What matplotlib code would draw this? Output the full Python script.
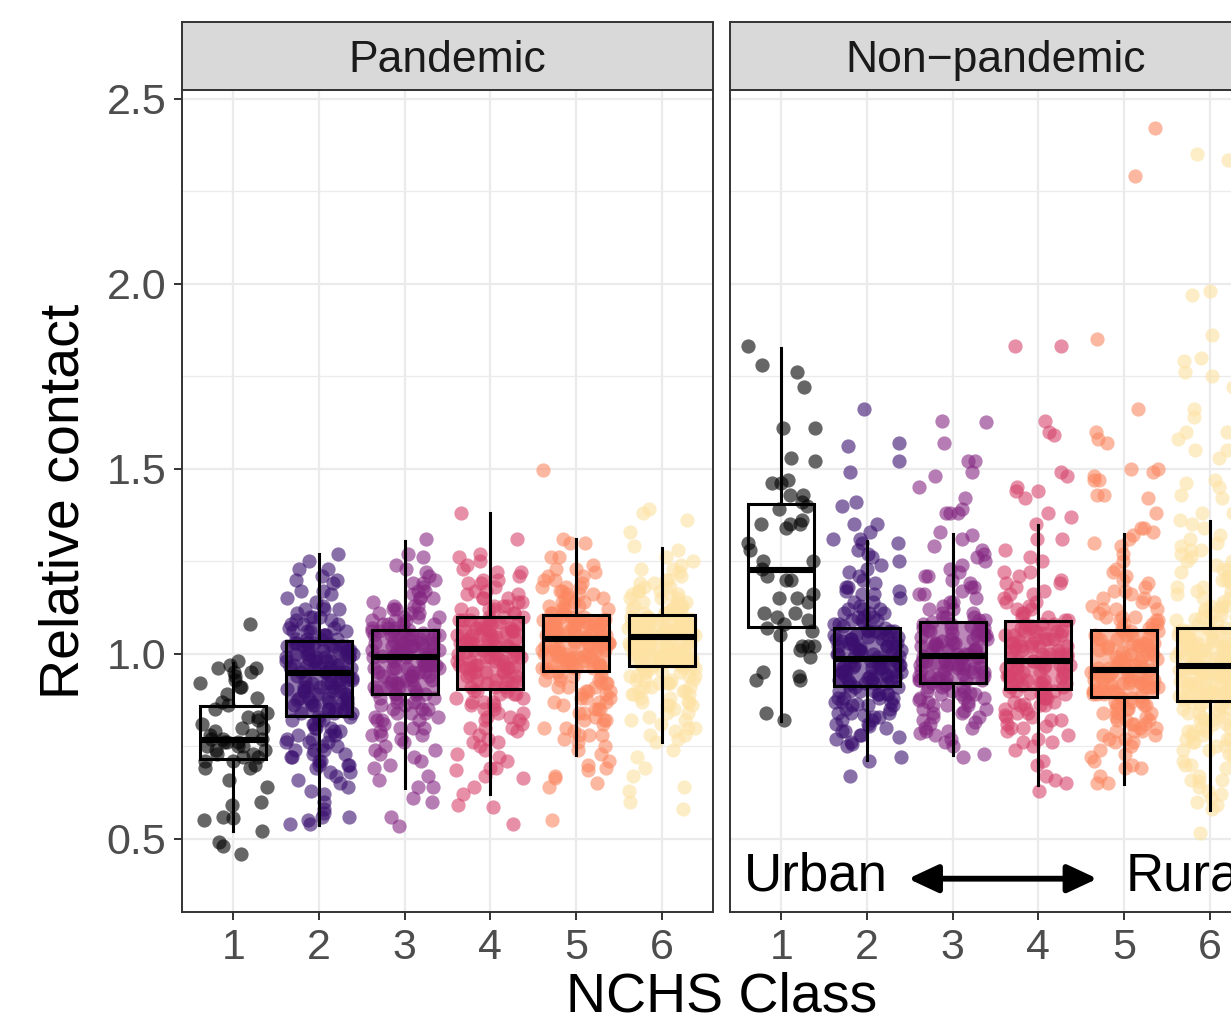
import matplotlib
matplotlib.use("Agg")
import matplotlib.pyplot as plt
import numpy as np

plt.rcParams['font.family'] = ['Liberation Sans', 'DejaVu Sans']

# ---------------- data ----------------
classes = [1, 2, 3, 4, 5, 6]
class_labels = ["1", "2", "3", "4", "5", "6"]
facets = ["Pandemic", "Non\u2212pandemic"]
y_ticks = [0.5, 1.0, 1.5, 2.0, 2.5]
y_tick_labels = ["0.5", "1.0", "1.5", "2.0", "2.5"]

# box statistics: whisker low, Q1, median, Q3, whisker high
pand_lo = [0.520, 0.538, 0.637, 0.621, 0.727, 0.761]
pand_q1 = [0.716, 0.831, 0.891, 0.905, 0.952, 0.966]
pand_med = [0.766, 0.948, 0.990, 1.013, 1.040, 1.044]
pand_q3 = [0.858, 1.033, 1.065, 1.098, 1.104, 1.105]
pand_hi = [0.975, 1.268, 1.304, 1.380, 1.310, 1.286]

npand_lo = [0.817, 0.714, 0.725, 0.646, 0.649, 0.578]
npand_q1 = [1.071, 0.912, 0.921, 0.905, 0.884, 0.873]
npand_med = [1.227, 0.986, 0.993, 0.979, 0.955, 0.968]
npand_q3 = [1.405, 1.069, 1.086, 1.087, 1.063, 1.070]
npand_hi = [1.826, 1.304, 1.324, 1.347, 1.322, 1.358]

# county-level points
pand_1 = [1.08, 0.98, 0.97, 0.96, 0.96, 0.95, 0.95, 0.94, 0.93, 0.92, 0.91, 0.91, 0.89, 0.88,
          0.87, 0.86, 0.85, 0.84, 0.83, 0.83, 0.82, 0.81, 0.80, 0.80, 0.79, 0.78, 0.78, 0.77,
          0.77, 0.77, 0.76, 0.76, 0.76, 0.75, 0.75, 0.75, 0.74, 0.74, 0.73, 0.73, 0.72, 0.72,
          0.71, 0.71, 0.70, 0.69, 0.69, 0.66, 0.64, 0.60, 0.59, 0.56, 0.555, 0.55, 0.52, 0.49,
          0.48, 0.46]
pand_2 = [0.54, 0.54, 0.55, 0.56, 0.56, 0.57, 0.58, 0.60, 0.62, 0.63, 0.64, 0.65, 0.66, 0.67,
          0.68, 0.68, 0.69, 0.70, 0.70, 0.71, 0.71, 0.72, 0.72, 0.73, 0.73, 0.74, 0.74, 0.75,
          0.75, 0.76, 0.76, 0.77, 0.77, 0.78, 0.78, 0.79, 0.79, 0.80, 0.80, 0.81, 0.81, 0.82,
          0.82, 0.83,
          0.83, 0.84, 0.84, 0.85, 0.85, 0.85, 0.86, 0.86, 0.86, 0.87, 0.87, 0.87, 0.88, 0.88,
          0.88, 0.89, 0.89, 0.89, 0.90, 0.90, 0.90, 0.91, 0.91, 0.91, 0.92, 0.92, 0.92, 0.93,
          0.93, 0.93, 0.94, 0.94, 0.94, 0.95, 0.95, 0.95, 0.845, 0.875, 0.905, 0.935,
          0.95, 0.96, 0.96, 0.96, 0.97, 0.97, 0.97, 0.97, 0.98, 0.98, 0.98, 0.98, 0.99, 0.99,
          0.99, 0.99, 1.00, 1.00, 1.00, 1.00, 1.01, 1.01, 1.01, 1.01, 1.02, 1.02, 1.02, 1.02,
          1.03, 1.03, 1.03, 1.03, 0.965, 0.985, 1.005, 1.025,
          1.04, 1.04, 1.04, 1.05, 1.05, 1.05, 1.06, 1.06, 1.06, 1.07, 1.07, 1.08, 1.08, 1.09,
          1.09, 1.10, 1.10, 1.11, 1.12, 1.12, 1.13, 1.14, 1.15, 1.16, 1.17, 1.17, 1.19, 1.20,
          1.20, 1.21, 1.23, 1.23, 1.25, 1.27,
          0.70, 0.74, 0.78, 0.80, 0.82, 0.84, 0.86, 0.88, 0.90, 0.92, 0.94, 0.96, 0.98, 1.00,
          1.02, 1.04, 1.06, 1.08, 1.10, 1.12, 0.87, 0.91, 0.95, 0.99, 1.03, 0.76, 0.85, 0.93,
          1.01, 1.07]
pand_3 = [0.535, 0.56, 0.60, 0.61, 0.64, 0.64, 0.66, 0.67, 0.69, 0.70, 0.71, 0.72, 0.73, 0.74,
          0.75, 0.76, 0.77, 0.78, 0.78, 0.79, 0.80, 0.80, 0.81, 0.82, 0.82, 0.83, 0.83, 0.84,
          0.84, 0.85, 0.85, 0.86, 0.86, 0.87, 0.87, 0.88, 0.88, 0.89, 0.89,
          0.89, 0.90, 0.90, 0.91, 0.91, 0.91, 0.92, 0.92, 0.92, 0.93, 0.93, 0.93, 0.94, 0.94,
          0.94, 0.95, 0.95, 0.95, 0.96, 0.96, 0.96, 0.96, 0.97, 0.97, 0.97, 0.97, 0.98, 0.98,
          0.98, 0.98, 0.99, 0.99, 0.99, 0.99,
          1.00, 1.00, 1.00, 1.00, 1.01, 1.01, 1.01, 1.01, 1.02, 1.02, 1.02, 1.02, 1.03, 1.03,
          1.03, 1.03, 1.04, 1.04, 1.04, 1.04, 1.05, 1.05, 1.05, 1.05, 1.06, 1.06, 1.06, 1.06,
          0.995, 1.015, 1.035, 1.055, 1.065, 1.065,
          1.07, 1.07, 1.08, 1.08, 1.08, 1.09, 1.09, 1.10, 1.10, 1.11, 1.11, 1.12, 1.12, 1.13,
          1.13, 1.14, 1.15, 1.15, 1.16, 1.17, 1.18, 1.19, 1.19, 1.20, 1.21, 1.22, 1.23, 1.24,
          1.26, 1.27, 1.31,
          0.74, 0.78, 0.82, 0.85, 0.87, 0.89, 0.91, 0.93, 0.95, 0.97, 0.99, 1.01, 1.03, 1.05,
          1.07, 1.09, 1.11, 1.13, 1.15, 1.17, 0.80, 0.88, 0.94, 1.00, 1.04, 1.10, 0.84, 0.96,
          1.02, 1.08]
pand_4 = [0.54, 0.585, 0.59, 0.62, 0.64, 0.665, 0.67, 0.685, 0.69, 0.69, 0.71, 0.72, 0.73, 0.74,
          0.75, 0.76, 0.77, 0.78, 0.79, 0.80, 0.80, 0.81, 0.82, 0.83, 0.83, 0.84, 0.85, 0.85,
          0.86, 0.87, 0.87, 0.88, 0.88, 0.89, 0.89, 0.90, 0.90,
          0.91, 0.91, 0.92, 0.92, 0.93, 0.93, 0.94, 0.94, 0.95, 0.95, 0.95, 0.96, 0.96, 0.96,
          0.97, 0.97, 0.97, 0.98, 0.98, 0.98, 0.99, 0.99, 0.99, 1.00, 1.00, 1.00, 1.01, 1.01,
          1.01, 0.925, 0.945, 0.965, 0.985, 1.005,
          1.02, 1.02, 1.02, 1.03, 1.03, 1.03, 1.04, 1.04, 1.04, 1.05, 1.05, 1.05, 1.06, 1.06,
          1.06, 1.07, 1.07, 1.07, 1.08, 1.08, 1.08, 1.09, 1.09, 1.09, 1.10, 1.10, 1.025, 1.045,
          1.065, 1.085, 1.035, 1.055,
          1.11, 1.11, 1.12, 1.12, 1.13, 1.13, 1.14, 1.14, 1.15, 1.15, 1.16, 1.16, 1.17, 1.18,
          1.19, 1.19, 1.20, 1.21, 1.22, 1.22, 1.23, 1.24, 1.25, 1.26, 1.27, 1.31, 1.38,
          0.76, 0.80, 0.84, 0.87, 0.89, 0.91, 0.93, 0.95, 0.97, 0.99, 1.01, 1.03, 1.05, 1.07,
          1.09, 1.11, 1.13, 1.15, 1.17, 1.20, 0.82, 0.90, 0.96, 1.02, 1.06, 1.12, 0.86, 0.98,
          1.04, 1.10]
pand_5 = [0.55, 0.64, 0.65, 0.665, 0.67, 0.685, 0.69, 0.70, 0.71, 0.73, 0.74, 0.75, 0.76, 0.77,
          0.78, 0.78, 0.79, 0.80, 0.81, 0.82, 0.82, 0.83, 0.84, 0.85, 0.85, 0.86, 0.87, 0.87,
          0.88, 0.88, 0.89, 0.89, 0.90, 0.90, 0.91, 0.91, 0.92, 0.92, 0.93, 0.93, 0.94, 0.94,
          0.95, 0.95,
          0.955, 0.96, 0.96, 0.965, 0.97, 0.97, 0.975, 0.98, 0.98, 0.985, 0.99, 0.99, 0.995,
          1.00, 1.00, 1.005, 1.01, 1.01, 1.015, 1.02, 1.02, 1.025, 1.03, 1.03, 1.035, 1.04,
          1.04, 0.96, 0.97, 0.98, 0.99, 1.00, 1.01, 1.02, 1.03, 0.975, 0.995, 1.015,
          1.045, 1.045, 1.05, 1.05, 1.055, 1.055, 1.06, 1.06, 1.065, 1.065, 1.07, 1.07, 1.075,
          1.075, 1.08, 1.08, 1.085, 1.085, 1.09, 1.09, 1.095, 1.095, 1.10, 1.10, 1.05, 1.06,
          1.07, 1.08, 1.09, 1.10, 1.045, 1.065, 1.085,
          1.11, 1.11, 1.12, 1.12, 1.13, 1.13, 1.14, 1.14, 1.15, 1.15, 1.16, 1.16, 1.17, 1.17,
          1.18, 1.18, 1.19, 1.20, 1.20, 1.21, 1.22, 1.23, 1.23, 1.24, 1.26, 1.26, 1.30, 1.30,
          1.31, 1.495,
          0.78, 0.82, 0.85, 0.88, 0.90, 0.92, 0.94, 0.96, 0.98, 1.00, 1.02, 1.04, 1.06, 1.08,
          1.10, 1.12, 1.14, 1.16, 1.18, 1.21, 0.84, 0.91, 0.97, 1.03, 1.07, 1.13, 0.87, 0.99,
          1.05, 1.11, 0.80, 0.93, 1.01, 1.09, 1.15]
pand_6 = [0.58, 0.60, 0.63, 0.64, 0.67, 0.69, 0.72, 0.74, 0.76, 0.77, 0.78, 0.79, 0.80, 0.81,
          0.82, 0.83, 0.84, 0.85, 0.86, 0.86, 0.87, 0.87, 0.88, 0.88, 0.89, 0.89, 0.90, 0.90,
          0.91, 0.91, 0.92, 0.92, 0.92, 0.93, 0.93, 0.93, 0.94, 0.94, 0.94, 0.95, 0.95, 0.95,
          0.96, 0.96, 0.96, 0.965,
          0.97, 0.97, 0.975, 0.975, 0.98, 0.98, 0.985, 0.985, 0.99, 0.99, 0.995, 0.995, 1.00,
          1.00, 1.005, 1.005, 1.01, 1.01, 1.015, 1.015, 1.02, 1.02, 1.025, 1.025, 1.03, 1.03,
          1.035, 1.035, 1.04, 1.04, 0.97, 0.98, 0.99, 1.00, 1.01, 1.02, 1.03, 1.04, 0.985,
          1.005, 1.025,
          1.045, 1.045, 1.05, 1.05, 1.055, 1.055, 1.06, 1.06, 1.065, 1.065, 1.07, 1.07, 1.075,
          1.075, 1.08, 1.08, 1.085, 1.085, 1.09, 1.09, 1.095, 1.095, 1.10, 1.10, 1.105, 1.05,
          1.06, 1.07, 1.08, 1.09, 1.10, 1.055, 1.075, 1.095, 1.065, 1.085,
          1.11, 1.11, 1.115, 1.12, 1.12, 1.125, 1.13, 1.13, 1.14, 1.14, 1.15, 1.15, 1.16, 1.16,
          1.17, 1.17, 1.18, 1.19, 1.20, 1.21, 1.22, 1.23, 1.24, 1.26, 1.28, 1.29, 1.33, 1.36,
          1.38, 1.39,
          0.80, 0.84, 0.87, 0.90, 0.92, 0.94, 0.96, 0.98, 1.00, 1.02, 1.04, 1.06, 1.08, 1.10,
          1.12, 1.14, 1.16, 1.18, 1.20, 1.23, 0.86, 0.93, 0.99, 1.03, 1.07, 1.13, 0.89, 0.97,
          1.05, 1.11, 0.82, 0.95, 1.01, 1.09, 1.15, 0.91, 1.17, 0.78, 1.25, 1.19]

npand_1 = [1.83, 1.78, 1.76, 1.72, 1.61, 1.61, 1.53, 1.52, 1.47, 1.46, 1.46, 1.43, 1.43, 1.41,
           1.40, 1.39, 1.36, 1.35, 1.34, 1.35, 1.35, 1.30, 1.28, 1.25, 1.25, 1.23, 1.20, 1.21,
           1.20, 1.15, 1.14, 1.16, 1.15, 1.11, 1.11, 1.10, 1.09, 1.08, 1.07, 1.05, 1.06, 1.02,
           1.02, 1.02, 1.01, 0.99, 0.95, 0.93, 0.93, 0.94, 0.84, 0.82]
npand_2 = [0.67, 0.71, 0.72, 0.75, 0.755, 0.76, 0.77, 0.78, 0.79, 0.79, 0.80, 0.81, 0.82, 0.82,
           0.83, 0.84, 0.84, 0.85, 0.85, 0.86, 0.86, 0.87, 0.87, 0.88, 0.88, 0.88, 0.89, 0.89,
           0.89, 0.90, 0.90, 0.90, 0.91, 0.91, 0.775, 0.805, 0.835, 0.865,
           0.915, 0.92, 0.92, 0.925, 0.93, 0.93, 0.935, 0.94, 0.94, 0.945, 0.95, 0.95, 0.955,
           0.96, 0.96, 0.965, 0.97, 0.97, 0.975, 0.98, 0.98, 0.985, 0.92, 0.93, 0.94, 0.95,
           0.96, 0.97, 0.98, 0.99, 0.935, 0.965,
           0.99, 0.995, 1.00, 1.00, 1.005, 1.01, 1.01, 1.015, 1.02, 1.02, 1.025, 1.03, 1.03,
           1.035, 1.04, 1.04, 1.045, 1.05, 1.05, 1.055, 1.06, 1.06, 1.065, 1.07, 1.00, 1.02,
           1.04, 1.06, 1.015, 1.045,
           1.075, 1.08, 1.08, 1.09, 1.09, 1.10, 1.10, 1.11, 1.11, 1.12, 1.12, 1.13, 1.14, 1.15,
           1.16, 1.17, 1.17, 1.18, 1.19, 1.20, 1.21, 1.22, 1.23, 1.24, 1.25, 1.26, 1.27, 1.28,
           1.30, 1.30, 1.31, 1.31, 1.33, 1.35, 1.35, 1.40, 1.41, 1.49, 1.52, 1.56, 1.57, 1.66,
           0.78, 0.81, 0.84, 0.86, 0.88, 0.90, 0.92, 0.94, 0.96, 0.98, 1.00, 1.02, 1.04, 1.06,
           1.08, 1.10, 1.12, 1.14, 1.16, 1.18, 0.83, 0.89, 0.95, 1.01, 1.05, 1.11, 0.87, 0.97,
           1.03, 1.09]
npand_3 = [0.72, 0.73, 0.75, 0.76, 0.77, 0.78, 0.79, 0.79, 0.80, 0.81, 0.82, 0.83, 0.84, 0.84,
           0.85, 0.86, 0.86, 0.87, 0.87, 0.88, 0.88, 0.89, 0.89, 0.90, 0.90, 0.91, 0.91, 0.92,
           0.785, 0.815, 0.845, 0.875, 0.895, 0.915,
           0.925, 0.93, 0.93, 0.935, 0.94, 0.94, 0.945, 0.95, 0.95, 0.955, 0.96, 0.96, 0.965,
           0.97, 0.97, 0.975, 0.98, 0.98, 0.985, 0.99, 0.99, 0.93, 0.95, 0.97, 0.935, 0.955,
           0.975, 0.985,
           1.00, 1.00, 1.01, 1.01, 1.02, 1.02, 1.03, 1.03, 1.04, 1.04, 1.05, 1.05, 1.06, 1.06,
           1.07, 1.07, 1.08, 1.08, 1.085, 1.005, 1.025, 1.045, 1.065, 1.015, 1.035, 1.055,
           1.075, 0.995,
           1.09, 1.10, 1.10, 1.11, 1.12, 1.13, 1.14, 1.15, 1.16, 1.17, 1.18, 1.19, 1.20, 1.21,
           1.22, 1.23, 1.24, 1.25, 1.26, 1.27, 1.28, 1.29, 1.31, 1.32, 1.33, 1.38, 1.38, 1.38,
           1.39, 1.42, 1.45, 1.48, 1.49, 1.52, 1.52, 1.57, 1.625, 1.63,
           0.80, 0.83, 0.86, 0.88, 0.90, 0.92, 0.94, 0.96, 0.98, 1.00, 1.02, 1.04, 1.06, 1.08,
           1.10, 1.12, 1.14, 1.16, 1.18, 1.21, 0.85, 0.91, 0.97, 1.01, 1.05, 1.11, 0.89, 0.99,
           1.03, 1.09, 0.93, 1.07]
npand_4 = [0.63, 0.65, 0.66, 0.67, 0.70, 0.71, 0.74, 0.75, 0.76, 0.77, 0.78, 0.79, 0.80, 0.81,
           0.82, 0.83, 0.84, 0.84, 0.85, 0.86, 0.86, 0.87, 0.87, 0.88, 0.88, 0.89, 0.89, 0.90,
           0.90, 0.805, 0.835, 0.865, 0.895,
           0.91, 0.91, 0.92, 0.92, 0.93, 0.93, 0.94, 0.94, 0.95, 0.95, 0.96, 0.96, 0.97, 0.97,
           0.98, 0.915, 0.925, 0.935, 0.945, 0.955, 0.965, 0.975, 0.92, 0.94, 0.96, 0.98,
           0.99, 0.99, 1.00, 1.00, 1.01, 1.01, 1.02, 1.02, 1.03, 1.03, 1.04, 1.04, 1.05, 1.05,
           1.06, 1.06, 1.07, 1.07, 1.08, 1.08, 0.995, 1.015, 1.035, 1.055, 1.075, 1.00, 1.02,
           1.04, 1.06,
           1.09, 1.10, 1.11, 1.12, 1.13, 1.14, 1.15, 1.16, 1.17, 1.18, 1.19, 1.20, 1.21, 1.22,
           1.22, 1.25, 1.26, 1.28, 1.31, 1.31, 1.35, 1.37, 1.38, 1.42, 1.44, 1.44, 1.45, 1.48,
           1.49, 1.59, 1.60, 1.63, 1.83, 1.83,
           0.76, 0.80, 0.83, 0.86, 0.88, 0.90, 0.92, 0.94, 0.96, 0.98, 1.00, 1.02, 1.04, 1.06,
           1.08, 1.10, 1.12, 1.14, 1.16, 1.19, 0.85, 0.91, 0.97, 1.01, 1.05, 1.11, 0.89, 0.99,
           1.03, 1.09, 0.82, 0.95]
npand_5 = [0.65, 0.65, 0.67, 0.69, 0.69, 0.70, 0.71, 0.72, 0.73, 0.74, 0.75, 0.76, 0.77, 0.77,
           0.78, 0.79, 0.79, 0.80, 0.80, 0.81, 0.81, 0.82, 0.82, 0.83, 0.83, 0.84, 0.84, 0.85,
           0.85, 0.86, 0.86, 0.87, 0.87, 0.88, 0.88,
           0.885, 0.89, 0.89, 0.895, 0.90, 0.90, 0.905, 0.91, 0.91, 0.915, 0.92, 0.92, 0.925,
           0.93, 0.93, 0.935, 0.94, 0.94, 0.945, 0.95, 0.95, 0.89, 0.90, 0.91, 0.92, 0.93,
           0.94, 0.955, 0.95, 0.90,
           0.96, 0.96, 0.97, 0.97, 0.98, 0.98, 0.99, 0.99, 1.00, 1.00, 1.01, 1.01, 1.02, 1.02,
           1.03, 1.03, 1.04, 1.04, 1.05, 1.05, 1.06, 1.06, 0.965, 0.985, 1.005, 1.025, 1.045,
           1.065, 0.975, 1.015,
           1.07, 1.08, 1.08, 1.09, 1.09, 1.10, 1.10, 1.11, 1.12, 1.12, 1.13, 1.14, 1.15, 1.16,
           1.17, 1.18, 1.19, 1.20, 1.21, 1.22, 1.23, 1.25, 1.27, 1.29, 1.30, 1.31, 1.32, 1.33,
           1.34, 1.34, 1.38, 1.42, 1.43, 1.43, 1.47, 1.47, 1.48, 1.49, 1.50, 1.50, 1.57, 1.58,
           1.60, 1.66, 1.85, 2.29, 2.42,
           0.76, 0.79, 0.82, 0.84, 0.86, 0.88, 0.90, 0.92, 0.94, 0.96, 0.98, 1.00, 1.02, 1.04,
           1.06, 1.08, 1.10, 1.12, 1.14, 1.17, 0.81, 0.87, 0.93, 0.97, 1.01, 1.07, 0.85, 0.95,
           0.99, 1.05, 0.78, 0.91, 1.03, 1.09, 1.15]
npand_6 = [0.515, 0.58, 0.59, 0.60, 0.61, 0.62, 0.63, 0.64, 0.65, 0.655, 0.66, 0.67, 0.68,
           0.69, 0.70, 0.71, 0.72, 0.73, 0.74, 0.75, 0.75, 0.76, 0.77, 0.77, 0.78, 0.78, 0.79,
           0.79, 0.80, 0.80, 0.81, 0.81, 0.82, 0.82, 0.83, 0.83, 0.84, 0.84, 0.85, 0.85, 0.86,
           0.86, 0.87, 0.87,
           0.875, 0.88, 0.88, 0.885, 0.89, 0.89, 0.895, 0.90, 0.90, 0.905, 0.91, 0.91, 0.915,
           0.92, 0.92, 0.925, 0.93, 0.93, 0.935, 0.94, 0.94, 0.945, 0.95, 0.95, 0.955, 0.96,
           0.96, 0.965, 0.88, 0.90, 0.92, 0.94, 0.96, 0.89, 0.91, 0.93, 0.95,
           0.97, 0.975, 0.98, 0.98, 0.985, 0.99, 0.99, 0.995, 1.00, 1.00, 1.005, 1.01, 1.01,
           1.015, 1.02, 1.02, 1.025, 1.03, 1.03, 1.035, 1.04, 1.04, 1.045, 1.05, 1.05, 1.055,
           1.06, 1.06, 1.065, 1.07, 0.98, 1.00, 1.02, 1.04, 1.06,
           1.075, 1.08, 1.085, 1.09, 1.095, 1.10, 1.105, 1.11, 1.115, 1.12, 1.13, 1.13, 1.14,
           1.15, 1.16, 1.17, 1.18, 1.19, 1.20, 1.21, 1.22, 1.23, 1.24, 1.25, 1.26, 1.27, 1.28,
           1.29, 1.30, 1.31, 1.32, 1.34, 1.35, 1.36, 1.38, 1.38, 1.42, 1.43, 1.45, 1.46, 1.47,
           1.53, 1.55, 1.55, 1.58, 1.60, 1.60, 1.64, 1.66, 1.72, 1.75, 1.76, 1.79, 1.80, 1.86,
           1.97, 1.98, 2.335, 2.35,
           0.66, 0.70, 0.73, 0.76, 0.79, 0.82, 0.85, 0.87, 0.89, 0.91, 0.93, 0.95, 0.97, 0.99,
           1.01, 1.03, 1.05, 1.07, 1.09, 1.11, 1.13, 1.15, 1.17, 1.20, 1.23, 0.74, 0.81, 0.88,
           0.94, 1.00, 1.06, 1.12, 1.18, 0.84, 0.92, 0.98, 1.04, 1.10, 0.77, 1.25, 0.69, 1.28,
           0.96, 1.02, 1.08]

pand_points = [pand_1, pand_2, pand_3, pand_4, pand_5, pand_6]
npand_points = [npand_1, npand_2, npand_3, npand_4, npand_5, npand_6]

annot_left = "Urban"
annot_right = "Rural"

# ---------------- styling ----------------
colors = ["#000000", "#3A0F6E", "#842681", "#D6446D", "#FB8861", "#FDE2A3"]
W, H = 1231, 1022
fig = plt.figure(figsize=(W / 100, H / 100), dpi=100)

panel_left_px = [182, 730]
panel_w_px = 531
panel_top_px, panel_bot_px = 90, 912
strip_top_px = 22
YLIM = (0.302, 2.523)
XLIM = (0.4, 6.6)
GRID = "#EBEBEB"
FRAME = "#333333"


def jitter(n, seed):
    # deterministic hash-based horizontal jitter (position only)
    i = np.arange(n) + 1.0
    h = np.sin(i * 12.9898 + seed * 78.233) * 43758.5453
    return ((h - np.floor(h)) - 0.5) * 0.80


stats_sets = [
    (pand_lo, pand_q1, pand_med, pand_q3, pand_hi),
    (npand_lo, npand_q1, npand_med, npand_q3, npand_hi),
]
point_sets = [pand_points, npand_points]

for k in range(2):
    lpx = panel_left_px[k]
    ax = fig.add_axes([lpx / W, 1 - panel_bot_px / H, panel_w_px / W,
                       (panel_bot_px - panel_top_px) / H])
    ax.set_xlim(*XLIM)
    ax.set_ylim(*YLIM)
    ax.set_axisbelow(True)

    # jittered points
    for c, vals, col in zip(classes, point_sets[k], colors):
        v = np.asarray(vals, dtype=float)
        xs = c + jitter(len(v), c + 10 * k)
        ax.scatter(xs, v, s=105, color=col, alpha=0.6, linewidths=0, zorder=2)

    # boxes
    lo, q1, med, q3, hi = stats_sets[k]
    bstats = []
    for j in range(6):
        bstats.append(dict(whislo=lo[j], q1=q1[j], med=med[j], q3=q3[j], whishi=hi[j],
                           fliers=[], label=class_labels[j]))
    bp = ax.bxp(bstats, positions=classes, widths=0.77, showfliers=False, showcaps=False,
                patch_artist=True,
                boxprops=dict(linewidth=2.2, edgecolor="black"),
                whiskerprops=dict(linewidth=2.2, color="black"),
                medianprops=dict(linewidth=4.4, color="black", solid_capstyle="butt"),
                zorder=3)
    for j, patch in enumerate(bp["boxes"]):
        if j == 0:
            patch.set_facecolor("none")
        else:
            r, g, b = matplotlib.colors.to_rgb(colors[j])
            patch.set_facecolor((r, g, b, 0.55))
        patch.set_zorder(3)

    # grid / ticks
    ax.set_xticks(classes)
    ax.set_xticklabels(class_labels)
    ax.set_yticks(y_ticks)
    ax.set_yticklabels(y_tick_labels)
    ax.set_yticks([0.75, 1.25, 1.75, 2.25], minor=True)
    ax.grid(which="major", color=GRID, linewidth=1.6)
    ax.grid(which="minor", axis="y", color=GRID, linewidth=0.9)
    ax.tick_params(which="minor", length=0)
    ax.tick_params(which="major", length=5.8, width=1.4, color=FRAME,
                   labelsize=31, labelcolor="#4D4D4D", pad=5.5)
    if k == 1:
        ax.tick_params(axis="y", left=False, labelleft=False)
    for sp in ax.spines.values():
        sp.set_color(FRAME)
        sp.set_linewidth(1.4)
        sp.set_zorder(5)

    # facet strip
    sax = fig.add_axes([lpx / W, 1 - panel_top_px / H, panel_w_px / W,
                        (panel_top_px - strip_top_px) / H])
    sax.set_facecolor("#D9D9D9")
    sax.set_xticks([])
    sax.set_yticks([])
    for sp in sax.spines.values():
        sp.set_color(FRAME)
        sp.set_linewidth(1.4)
    sax.text(0.5, 0.44, facets[k], transform=sax.transAxes, ha="center", va="center",
             fontsize=32, color="#1A1A1A")

    if k == 1:
        ax.text(0.56, 0.398, annot_left, ha="left", va="center", fontsize=38, color="black",
                zorder=6)
        ax.text(5.02, 0.398, annot_right, ha="left", va="center", fontsize=38, color="black",
                zorder=6, clip_on=False)
        ax.annotate("", xy=(4.69, 0.392), xytext=(2.48, 0.392),
                    arrowprops=dict(arrowstyle="<|-|>,head_length=0.9,head_width=0.42",
                                    color="black", lw=4.2, shrinkA=0, shrinkB=0,
                                    mutation_scale=20), zorder=6)

fig.text(65 / W, 1 - 501 / H, "Relative contact", rotation=90, ha="center", va="center",
         fontsize=40, color="black")
fig.text(721.5 / W, 1 - 997 / H, "NCHS Class", ha="center", va="center", fontsize=40,
         color="black")

fig.savefig("out.png", dpi=100)
